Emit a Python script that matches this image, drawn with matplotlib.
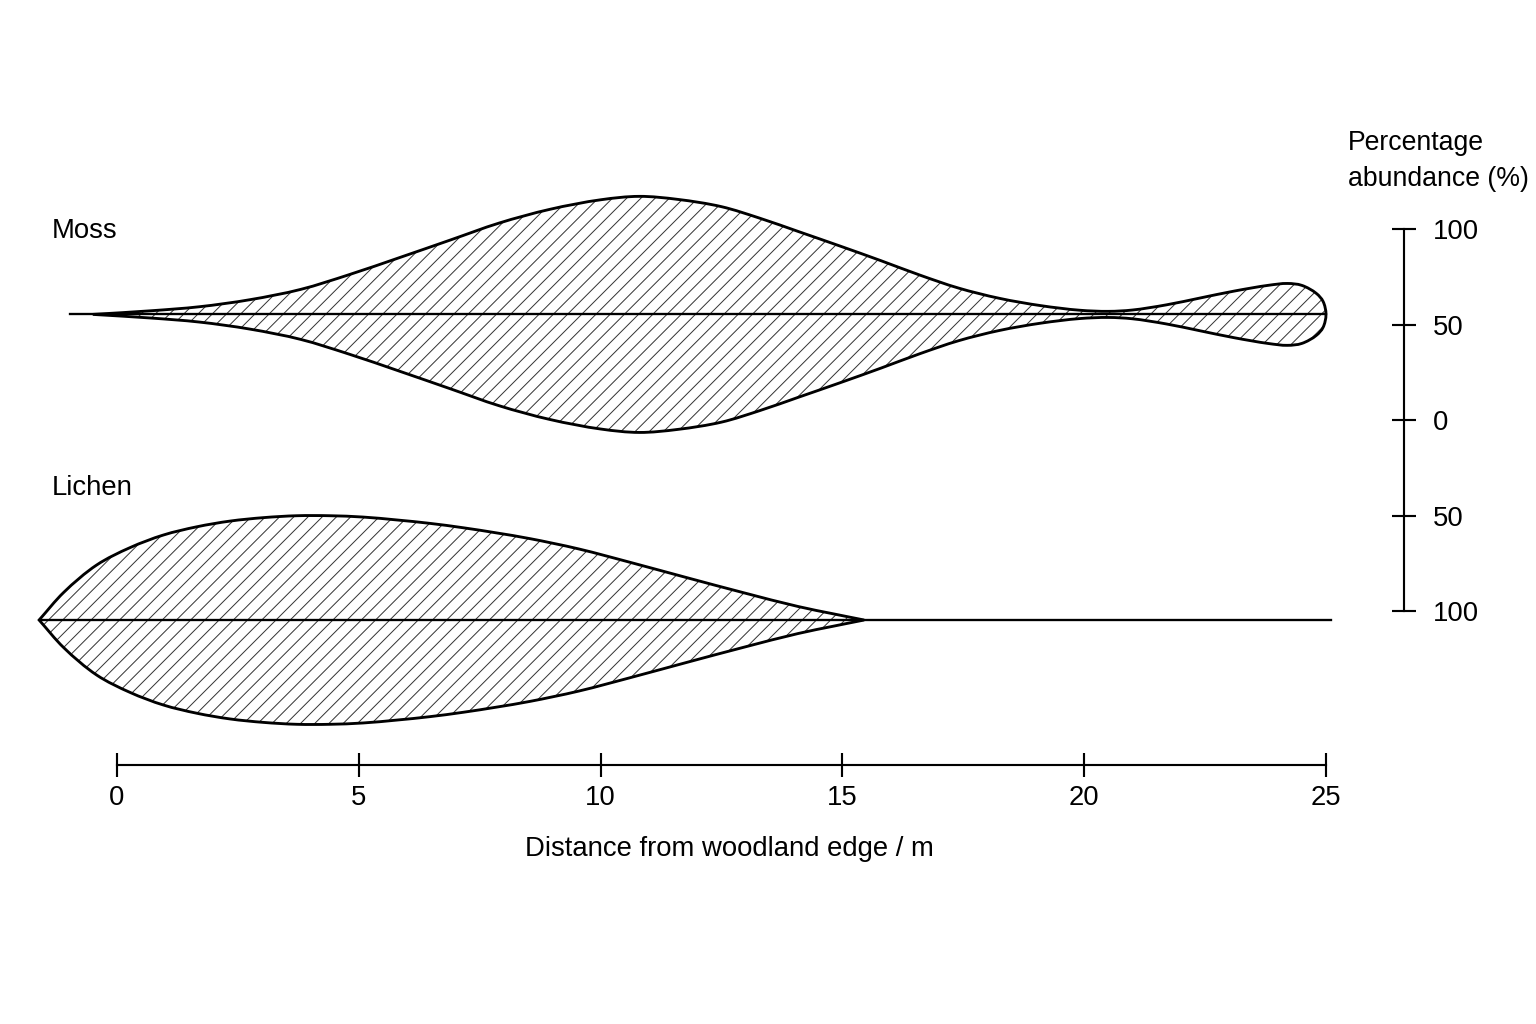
import numpy as np
import matplotlib
matplotlib.use("Agg")
import matplotlib.pyplot as plt
from matplotlib.path import Path
from matplotlib.patches import PathPatch

plt.rcParams['font.family'] = ['Liberation Sans', 'DejaVu Sans']
plt.rcParams['hatch.linewidth'] = 0.55

moss_dist = [-0.5, 0.7, 1.7, 2.75, 3.8, 4.8, 5.85, 6.9, 7.9, 8.95, 10.0, 10.8,
             11.6, 12.5, 13.3, 14.1, 14.95, 15.8, 16.6, 17.4, 18.25, 19.1,
             19.9, 20.5, 21.0, 21.7, 22.4, 23.1, 23.8, 24.2, 24.5, 24.8,
             24.94, 25.0]
moss_pct = [0, 1.9, 4.0, 7.7, 13.1, 20.8, 29.8, 39.0, 47.8, 55.0, 60.0, 61.8,
            60.2, 56.4, 50.3, 43.3, 35.8, 28.1, 20.6, 13.8, 8.4, 4.6,
            2.2, 1.6, 2.3, 5.0, 8.6, 12.2, 15.2, 16.2, 15.2, 11.0,
            6.8, 0]

lichen_dist = [-1.61, -1.1, -0.42, 0.27, 0.96, 1.65, 2.34, 3.03, 3.72, 4.4,
               5.09, 5.78, 6.47, 7.16, 7.85, 8.54, 9.55, 10.67, 11.81, 12.94,
               14.08, 14.8, 15.45]
lichen_pct = [0, 14.5, 28.8, 37.9, 44.5, 48.8, 51.8, 53.6, 54.6, 54.6,
              53.9, 52.4, 50.6, 48.3, 45.6, 42.6, 37.2, 29.8, 22.0, 14.4,
              7.1, 3.3, 0]

moss_line = (-0.97, 25)
lichen_line = (-1.6, 25.1)

x_ticks = [0, 5, 10, 15, 20, 25]
scale_ticks = [-100, -50, 0, 50, 100]
scale_labels = ['100', '50', '0', '50', '100']

MOSS_BASE = 160
LICHEN_BASE = 0
SCALE_BASE = 104.7
AXIS_Y = -76
PX = np.array([48.36, 1.91])   # screen pixels per data unit (x, y)


def curve(pts):
    # centripetal catmull-rom through the points, as cubic bezier pieces
    pts = np.asarray(pts, dtype=float)
    ext = np.vstack([2 * pts[0] - pts[1], pts, 2 * pts[-1] - pts[-2]])
    verts = []
    for i in range(1, len(ext) - 2):
        p0, p1, p2, p3 = ext[i - 1], ext[i], ext[i + 1], ext[i + 2]
        d1 = np.hypot(*((p1 - p0) * PX)) ** 0.5 + 1e-9
        d2 = np.hypot(*((p2 - p1) * PX)) ** 0.5 + 1e-9
        d3 = np.hypot(*((p3 - p2) * PX)) ** 0.5 + 1e-9
        b1 = (d1 ** 2 * p2 - d2 ** 2 * p0
              + (2 * d1 ** 2 + 3 * d1 * d2 + d2 ** 2) * p1) / (3 * d1 * (d1 + d2))
        b2 = (d3 ** 2 * p1 - d2 ** 2 * p3
              + (2 * d3 ** 2 + 3 * d3 * d2 + d2 ** 2) * p2) / (3 * d3 * (d3 + d2))
        verts += [b1, b2, p2]
    return verts


def kite_path(pieces):
    verts = [pieces[0][0]]
    codes = [Path.MOVETO]
    for p in pieces:
        v = curve(p)
        verts += v
        codes += [Path.CURVE4] * len(v)
    verts.append(verts[0])
    codes.append(Path.CLOSEPOLY)
    return Path(verts, codes)


d = np.array(moss_dist)
h = np.array(moss_pct)
top = np.column_stack([d, MOSS_BASE + h])
bot = np.column_stack([d, MOSS_BASE - h])[::-1][1:]
moss_path = kite_path([np.vstack([top, bot])])

d = np.array(lichen_dist)
h = np.array(lichen_pct)
top = np.column_stack([d, LICHEN_BASE + h])
bot = np.column_stack([d, LICHEN_BASE - h])[::-1]
lichen_path = kite_path([top, bot])

fig = plt.figure(figsize=(12, 8), dpi=128)
ax = fig.add_axes([0, 0, 1, 1])
ax.set_xlim(-2.419, 29.343)
ax.set_ylim(-211.5, 324.6)

for p in (moss_path, lichen_path):
    ax.add_patch(PathPatch(p, facecolor='white', edgecolor='#333333',
                           hatch='///', lw=0, zorder=1))
ax.plot(moss_line, [MOSS_BASE, MOSS_BASE], color='black', lw=1.3, zorder=2)
ax.plot(lichen_line, [LICHEN_BASE, LICHEN_BASE], color='black', lw=1.3, zorder=2)
for p in (moss_path, lichen_path):
    ax.add_patch(PathPatch(p, facecolor='none', edgecolor='black',
                           lw=1.6, zorder=3))

for s in ('top', 'left'):
    ax.spines[s].set_visible(False)
ax.spines['bottom'].set_position(('data', AXIS_Y))
ax.spines['bottom'].set_bounds(0, 25)
ax.spines['bottom'].set_linewidth(1.2)
ax.set_xticks(x_ticks)
ax.tick_params(axis='x', direction='inout', length=13, width=1.2,
               labelsize=15.5, pad=4.5)

ax.spines['right'].set_position(('data', 26.61))
ax.spines['right'].set_bounds(SCALE_BASE - 100, SCALE_BASE + 100)
ax.spines['right'].set_linewidth(1.2)
ax.yaxis.tick_right()
ax.set_yticks([SCALE_BASE + v for v in scale_ticks])
ax.set_yticklabels(scale_labels)
ax.tick_params(axis='y', direction='inout', length=14, width=1.2,
               labelsize=15.5, pad=9.5)

fig.text(52 / 1536, 1 - 231 / 1024, 'Moss', fontsize=15.5, va='center')
fig.text(52 / 1536, 1 - 488 / 1024, 'Lichen', fontsize=15.5, va='center')
fig.text(1348 / 1536, 1 - 161 / 1024, 'Percentage\nabundance (%)',
         fontsize=15, va='center', linespacing=1.5)
fig.text(729 / 1536, 1 - 849 / 1024, 'Distance from woodland edge / m',
         fontsize=15.5, va='center', ha='center')

fig.savefig('out.png', dpi=128, facecolor='white')
